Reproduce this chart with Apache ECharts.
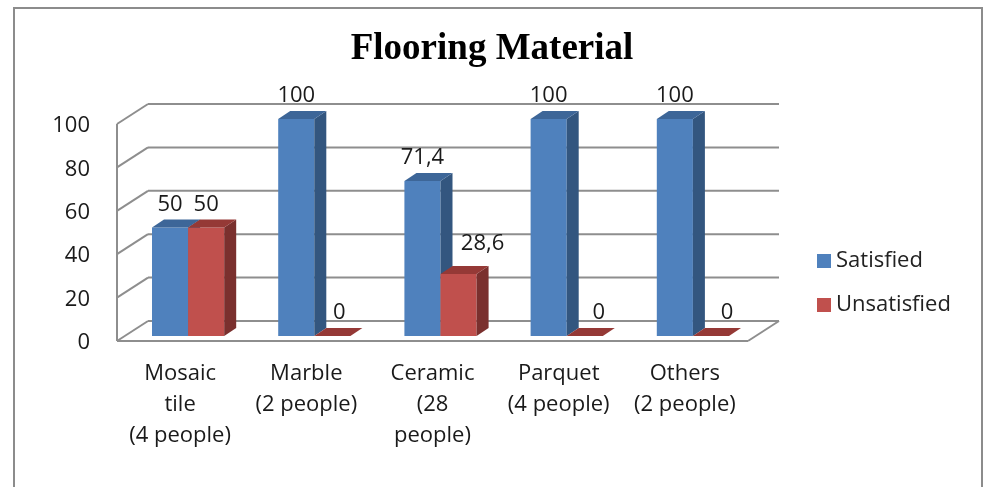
<!DOCTYPE html>
<html>
<head>
<meta charset="utf-8">
<script src="https://cdn.jsdelivr.net/npm/echarts@6/dist/echarts.min.js"></script>
<style>
  html, body { margin: 0; padding: 0; background: #fff; }
  #chart-main { width: 984px; height: 487px; }
</style>
</head>
<body>
<div id="chart-main"></div>
<script>
  // data
  const categories = ['Mosaic\ntile\n(4 people)', 'Marble\n(2 people)', 'Ceramic\n(28\npeople)', 'Parquet\n(4 people)', 'Others\n(2 people)'];
  const satisfied = [50, 100, 71.4, 100, 100];
  const unsatisfied = [50, 0, 28.6, 0, 0];
  const yTicks = [0, 20, 40, 60, 80, 100];

  // pseudo 3d offsets (px) relative to the bar plane
  const BACK = [23, -15];
  const FRONT = [-8, 5];
  const BAR_D = [12, -8];
  const BAR_RATIO = 0.286;
  const FONT = '"Open Sans", "Noto Sans", sans-serif';
  // label nudges that excel applied to avoid overlaps
  const nudgeSat = [[0, 0], [0, 0], [0, 0], [0, 0], [0, 0]];
  const nudgeUns = [[0, 0], [7, 0], [24, -7], [14, 0], [16, 0]];

  const blue = { front: '#4f81bd', side: '#33567f', top: '#3d6698' };
  const red = { front: '#c0504d', side: '#7a302e', top: '#953936' };

  function fmt(v) {
    return String(v).replace('.', ',');
  }

  function barRender(side, col, nudge) {
    return function (params, api) {
      let i = api.value(0), v = api.value(1);
      let base = api.coord([i, 0]);
      let top = api.coord([i, v]);
      let w = api.size([1, 0])[0] * BAR_RATIO;
      let cx = base[0] + side * w / 2;
      let x0 = cx - w / 2, x1 = cx + w / 2;
      let yb = base[1], yt = top[1];
      let dx = BAR_D[0], dy = BAR_D[1];
      let kids = [];
      if (v > 0) {
        kids.push({ type: 'rect', shape: { x: x0, y: yt, width: w, height: yb - yt }, style: { fill: col.front } });
        kids.push({ type: 'polygon', shape: { points: [[x1, yt], [x1 + dx, yt + dy], [x1 + dx, yb + dy], [x1, yb]] }, style: { fill: col.side } });
      }
      kids.push({ type: 'polygon', shape: { points: [[x0, yt], [x0 + dx, yt + dy], [x1 + dx, yt + dy], [x1, yt]] }, style: { fill: col.top } });
      kids.push({
        type: 'text',
        style: {
          text: fmt(v), x: cx + nudge[i][0], y: yt - 23 + nudge[i][1],
          align: 'center', verticalAlign: 'middle',
          font: '22px ' + FONT, fill: '#1a1a1a'
        }
      });
      return { type: 'group', children: kids };
    };
  }

  function wallRender(params, api) {
    let cs = params.coordSys;
    let left = cs.x, right = cs.x + cs.width;
    let line = { stroke: '#8e8e8e', lineWidth: 2 };
    let kids = [];
    yTicks.forEach(function (t) {
      let y = api.coord([0, t])[1];
      // back wall gridline
      kids.push({ type: 'line', shape: { x1: left + BACK[0], y1: y + BACK[1], x2: right + BACK[0], y2: y + BACK[1] }, style: line });
      // side wall diagonal
      kids.push({ type: 'line', shape: { x1: left + FRONT[0], y1: y + FRONT[1], x2: left + BACK[0], y2: y + BACK[1] }, style: line });
      // tick label sits on the front edge of the side wall
      kids.push({
        type: 'text',
        style: {
          text: String(t), x: left + FRONT[0] - 27, y: y + FRONT[1] + 2,
          align: 'right', verticalAlign: 'middle',
          font: '22px ' + FONT, fill: '#1a1a1a'
        }
      });
    });
    let y0 = api.coord([0, 0])[1];
    let yMax = api.coord([0, yTicks[yTicks.length - 1]])[1];
    // front vertical edge of the side wall
    kids.push({ type: 'line', shape: { x1: left + FRONT[0], y1: y0 + FRONT[1], x2: left + FRONT[0], y2: yMax + FRONT[1] }, style: line });
    // floor front edge and right edge
    kids.push({ type: 'line', shape: { x1: left + FRONT[0], y1: y0 + FRONT[1], x2: right + FRONT[0], y2: y0 + FRONT[1] }, style: line });
    kids.push({ type: 'line', shape: { x1: right + FRONT[0], y1: y0 + FRONT[1], x2: right + BACK[0], y2: y0 + BACK[1] }, style: line });
    return { type: 'group', children: kids };
  }

  let chart = echarts.init(document.getElementById('chart-main'));
  chart.setOption({
    animation: false,
    backgroundColor: '#fff',
    graphic: [{
      type: 'rect',
      shape: { x: 14, y: 8, width: 968, height: 500 },
      style: { fill: 'none', stroke: '#8c8c8c', lineWidth: 2 },
      z: -10
    }],
    title: {
      text: 'Flooring Material',
      left: 'center',
      top: 26,
      textStyle: {
        fontFamily: '"Liberation Serif", "DejaVu Serif", serif',
        fontWeight: 'bold',
        fontSize: 37,
        color: '#000'
      }
    },
    legend: {
      data: ['Satisfied', 'Unsatisfied'],
      orient: 'vertical',
      left: 812,
      top: 245,
      itemGap: 22,
      icon: 'rect',
      itemWidth: 14,
      itemHeight: 14,
      textStyle: { fontFamily: FONT, fontSize: 22, color: '#222' }
    },
    grid: {
      left: 125,
      right: 228,
      top: 119,
      bottom: 151
    },
    xAxis: {
      type: 'category',
      data: categories,
      axisLine: { show: false },
      axisTick: { show: false },
      axisLabel: {
        interval: 0,
        margin: 22,
        fontFamily: FONT,
        fontSize: 22,
        lineHeight: 31,
        color: '#1a1a1a',
        padding: [0, 16, 0, 0]
      }
    },
    yAxis: {
      type: 'value',
      min: 0,
      max: 100,
      interval: 20,
      axisLine: { show: false },
      axisTick: { show: false },
      splitLine: { show: false },
      axisLabel: { show: false }
    },
    series: [
      {
        name: 'walls',
        type: 'custom',
        silent: true,
        clip: false,
        renderItem: wallRender,
        data: [[0, 0]],
        z: 1
      },
      {
        name: 'Satisfied',
        type: 'custom',
        clip: false,
        itemStyle: { color: blue.front },
        renderItem: barRender(-1, blue, nudgeSat),
        data: satisfied.map(function (v, i) { return [i, v]; }),
        z: 2
      },
      {
        name: 'Unsatisfied',
        type: 'custom',
        clip: false,
        itemStyle: { color: red.front },
        renderItem: barRender(1, red, nudgeUns),
        data: unsatisfied.map(function (v, i) { return [i, v]; }),
        z: 3
      }
    ]
  });
  window.onresize = function () {
    chart.resize();
  };
</script>
</body>
</html>
